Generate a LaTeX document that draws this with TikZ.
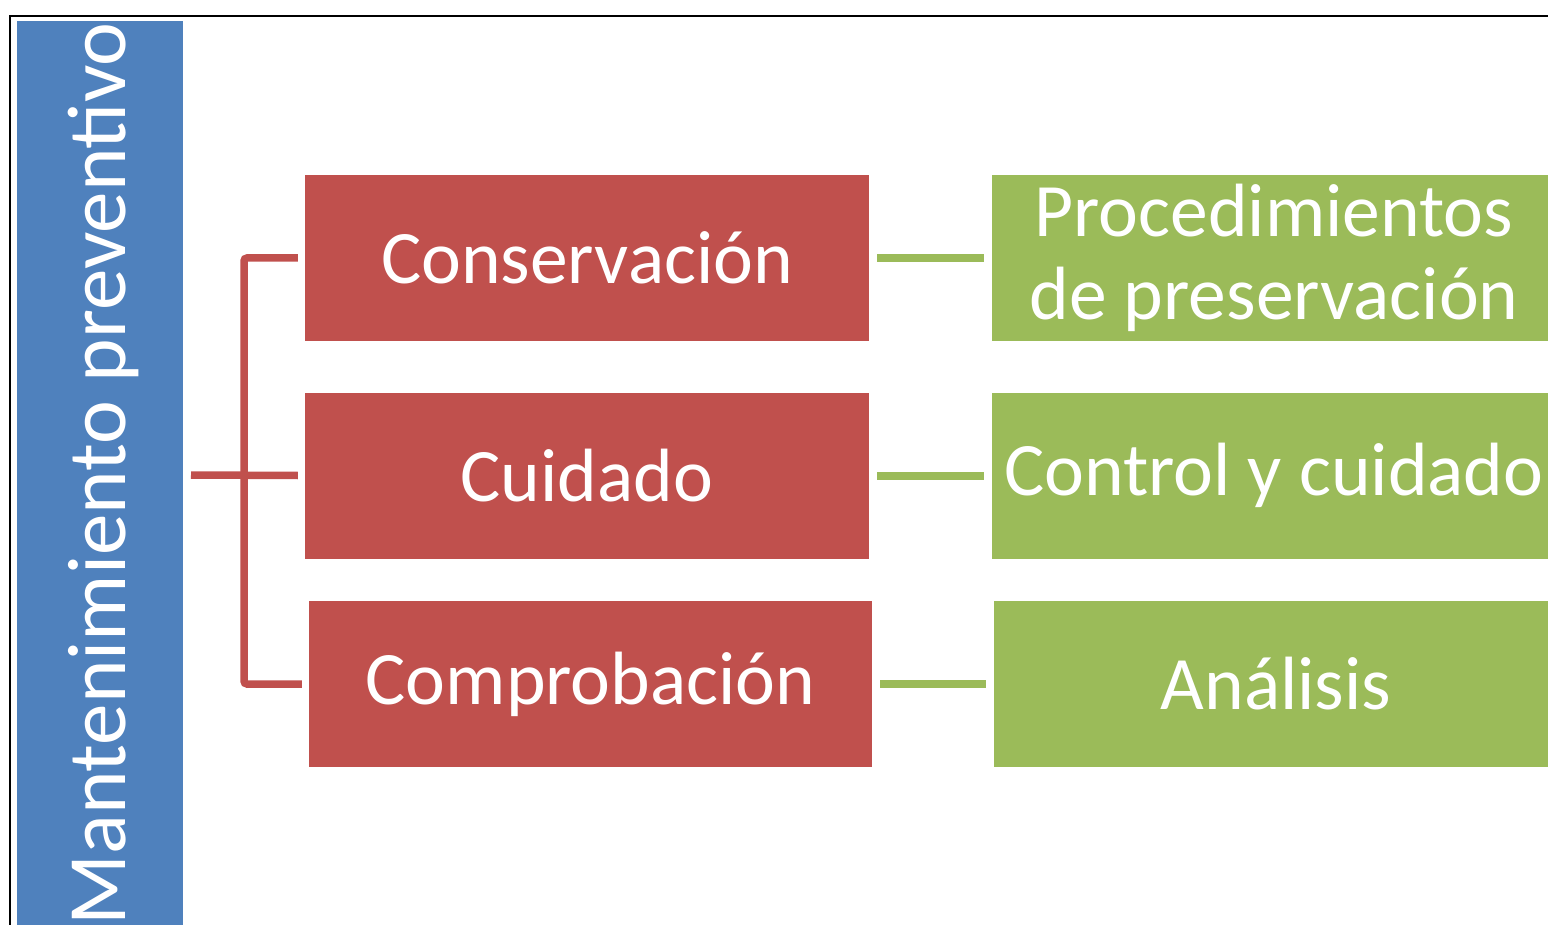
\documentclass[tikz,border=0pt]{standalone}
\usepackage{fontspec}
\setmainfont{Carlito}
\usepackage{tikz}
\usetikzlibrary{positioning,calc}
\definecolor{mpblue}{HTML}{4F81BD}
\definecolor{mpred}{HTML}{C0504D}
\definecolor{mpgreen}{HTML}{9BBB59}

\begin{document}
\begin{tikzpicture}[x=1pt,y=1pt,yscale=-1,xscale=1]
  \useasboundingbox (0,0) rectangle (1548,925);
  \tikzstyle{redbox} = [fill=mpred,draw=none,text=white,minimum width=564pt,minimum height=166pt,inner sep=0pt,font=\fontsize{75.5}{80}\selectfont]
  \tikzstyle{greenbox} = [fill=mpgreen,draw=none,text=white,minimum width=564pt,minimum height=166pt,inner sep=0pt,align=center,font=\fontsize{75.5}{83}\selectfont]
  \tikzstyle{redline} = [mpred,line width=7.5pt,rounded corners=3pt]
  \tikzstyle{greenline} = [mpgreen,line width=8pt,shorten <=8pt,shorten >=8pt]
  %Draw the frame
  \draw [line width=2pt] (10,925) -- (10,16) -- (1548,16);
  %Draw the title bar
  \fill [mpblue] (17,21) rectangle (183,940);
  \node (root) at (125,474) [anchor=base,rotate=90,text=white,inner sep=0pt,font=\fontsize{83}{88}\selectfont] {Mantenimiento preventivo};
  \coordinate (bar) at (183,475);
  %Draw the boxes
  \node [redbox] (cons) at (587,258) {Conservación};
  \node [redbox] (cuid) at (587,475.5) {Cuidado};
  \node [redbox,minimum width=563pt] (comp) at (590.5,684) {Comprobación};
  \node [greenbox] (proc) at (1274,258) {Procedimientos\\de preservación};
  \node [greenbox] (ctrl) at (1274,475.5) {Control y cuidado};
  \node [greenbox] (anal) at (1276,684) {Análisis};
  %Draw the bracket
  \coordinate (hub) at (244,475);
  \draw [redline] ([xshift=8pt]bar) -- ([xshift=-7pt]cuid.west);
  \draw [redline] ([xshift=-7pt]cons.west) -| (hub) |- ([xshift=-7pt]comp.west);
  %Draw the links
  \draw [greenline] (cons.east) -- (proc.west);
  \draw [greenline] (cuid.east) -- (ctrl.west);
  \draw [greenline] (comp.east) -- (anal.west);
\end{tikzpicture}
\end{document}
